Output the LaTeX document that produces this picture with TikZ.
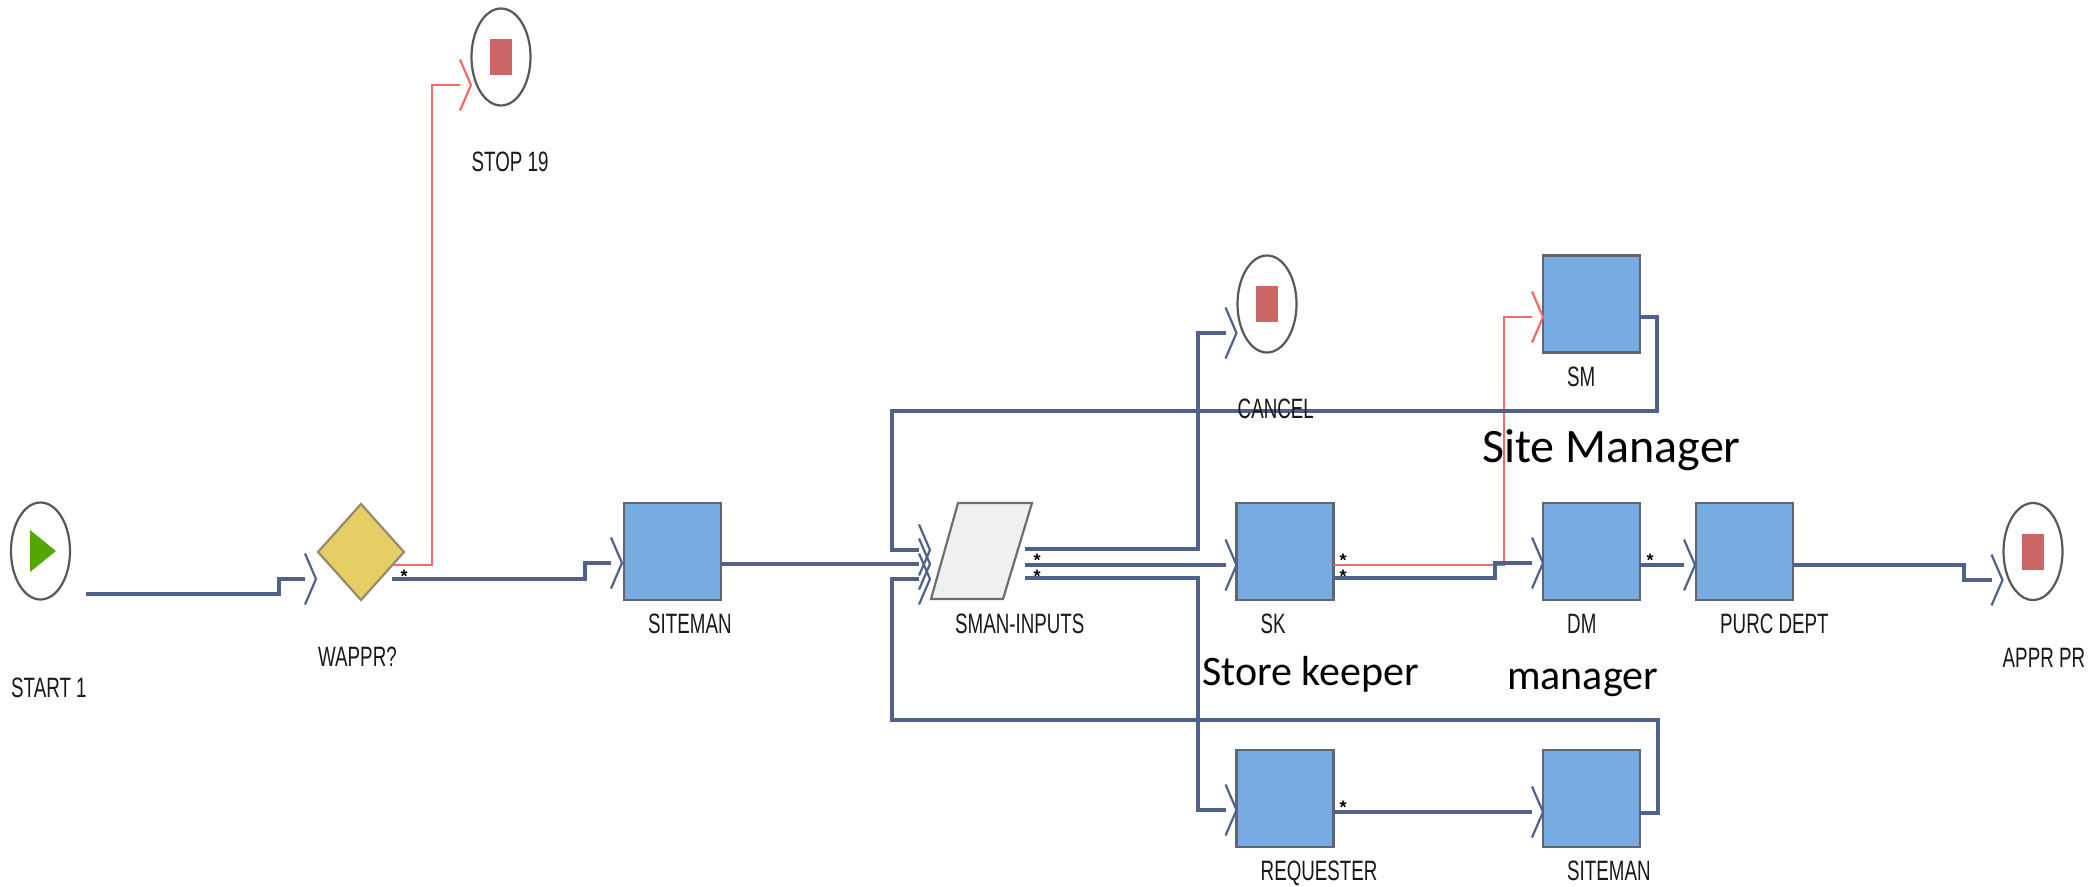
\documentclass[tikz,border=0pt]{standalone}
\usepackage{fontspec}
\setmainfont{Liberation Sans}
\newfontfamily\lblfont[FakeStretch=0.67]{Liberation Sans}
\newfontfamily\annfont{Carlito}
\usetikzlibrary{calc,shapes.geometric,arrows.meta}

\pgfdeclarearrow{
  name = Chev,
  setup code = {
    \pgfarrowssettipend{0pt}
    \pgfarrowssetlineend{-11pt}
    \pgfarrowssetbackend{-11pt}
    \pgfarrowshullpoint{0pt}{0pt}
    \pgfarrowsupperhullpoint{-11pt}{25.5pt}
  },
  drawing code = {
    \pgfsetdash{}{0pt}
    \pgfsetlinewidth{2.2pt}
    \pgfsetmiterjoin
    \pgfpathmoveto{\pgfpoint{-11pt}{25.5pt}}
    \pgfpathlineto{\pgfpointorigin}
    \pgfpathlineto{\pgfpoint{-11pt}{-25.5pt}}
    \pgfusepathqstroke
  }
}

\definecolor{linec}{RGB}{78,98,140}
\definecolor{redc}{RGB}{244,104,104}
\definecolor{boxfill}{RGB}{120,170,226}
\definecolor{boxdraw}{RGB}{96,102,112}
\definecolor{evtdraw}{RGB}{88,88,88}
\definecolor{stopfill}{RGB}{204,102,102}
\definecolor{startfill}{RGB}{86,166,0}
\definecolor{gwfill}{RGB}{230,205,100}
\definecolor{gwdraw}{RGB}{150,140,105}
\definecolor{pgfill}{RGB}{239,240,242}
\definecolor{pgdraw}{RGB}{110,110,110}
\definecolor{txt}{RGB}{25,25,25}

\begin{document}
\begin{tikzpicture}[x=1pt,y=-1pt,
  task/.style={rectangle, draw=boxdraw, fill=boxfill, line width=2.2, minimum width=97, minimum height=97, inner sep=0, outer sep=0},
  evt/.style={ellipse, draw=evtdraw, fill=white, line width=2.2, minimum width=59, minimum height=97, inner sep=0, outer sep=0},
  conn/.style={draw=linec, line width=3.2, -{Chev}, line join=miter},
  redconn/.style={draw=redc, line width=2.4, -{Chev}, line join=miter},
  lbl/.style={anchor=base west, inner sep=0, text=txt, font=\lblfont\fontsize{28}{30}\selectfont},
  ann/.style={anchor=base west, inner sep=0, text=black, font=\annfont\fontsize{42}{50}\selectfont},
  annbig/.style={ann, font=\annfont\fontsize{48}{56}\selectfont},
  star/.style={inner sep=0, text=black, font=\bfseries\fontsize{18}{18}\selectfont}
]
\fill[white] (0,0) rectangle (2095,886);
\useasboundingbox (0,0) rectangle (2095,886);

% events
\node[evt] (start) at (40.5,551) {};
\fill[startfill] (30,530) -- (56,551) -- (30,572) -- cycle;
\node[evt] (stop) at (501,57) {};
\fill[stopfill] ($(stop.center)+(-11,-18)$) rectangle ++(22,36);
\node[evt] (cancel) at (1267,304) {};
\fill[stopfill] ($(cancel.center)+(-11,-18)$) rectangle ++(22,36);
\node[evt] (appr) at (2033,551.5) {};
\fill[stopfill] ($(appr.center)+(-11,-18)$) rectangle ++(22,36);

% gateway
\node[diamond, draw=gwdraw, fill=gwfill, line width=2.2, minimum width=86, minimum height=96, inner sep=0, outer sep=0] (wappr) at (361,552) {};

% sman-inputs
\draw[draw=pgdraw, fill=pgfill, line width=2.2] (958,503) -- (1032,503) -- (1003,599) -- (931,599) -- cycle;
\node[inner sep=0, outer sep=0, minimum width=101, minimum height=96] (smi) at (981.5,551) {};

% tasks
\node[task] (siteman1) at (672.5,551.5) {};
\node[task] (sk) at (1285,551.5) {};
\node[task] (dm) at (1591.5,551.5) {};
\node[task] (purc) at (1744.5,551.5) {};
\node[task] (sm) at (1591.5,304) {};
\node[task] (req) at (1285,798.5) {};
\node[task] (siteman2) at (1591.5,798.5) {};

% connectors
\draw[conn] ($(start.center)+(45.5,43)$) -- (279,594) -- (279,579) -- ($(wappr.west)+(-2,27)$);
\draw[redconn] ($(wappr.center)+(32,13)$) -- (432,565) -- (432,85) -- ($(stop.west)+(-0.5,28)$);
\draw[conn] ($(wappr.center)+(31,27)$) -- (585,579) -- (585,563) -- ($(siteman1.west)+(-2,11.5)$);
\draw[conn] ($(siteman1.east)+(0,12.5)$) -- ($(smi.west)+(-1,13)$);
\draw[conn] ($(smi.east)+(-7,-2)$) -- (1198,549) -- (1198,333) -- ($(cancel.west)+(-1,29)$);
\draw[conn] ($(smi.east)+(-7,14)$) -- ($(sk.west)+(0,13.5)$);
\draw[conn] ($(smi.east)+(-7,27)$) -- (1198,578) -- (1198,810) -- ($(req.west)+(0,11.5)$);
\draw[redconn] ($(sk.east)+(0,13.5)$) -- (1504,565) -- (1504,317) -- ($(sm.west)+(0,13)$);
\draw[conn] ($(sk.east)+(0,26.5)$) -- (1495,578) -- (1495,563) -- ($(dm.west)+(0,11.5)$);
\draw[conn] ($(dm.east)+(0,13.5)$) -- ($(purc.west)+(-1,13.5)$);
\draw[conn] ($(purc.east)+(0,13.5)$) -- (1964,565) -- (1964,580) -- ($(appr.west)+(-1,28.5)$);
\draw[conn] ($(sm.east)+(0,13)$) -- (1657,317) -- (1657,411) -- (892,411) -- (892,550) -- ($(smi.west)+(-1,-1)$);
\draw[conn] ($(req.east)+(0,13.5)$) -- ($(siteman2.west)+(0,13.5)$);
\draw[conn] ($(siteman2.east)+(0,14.5)$) -- (1658,813) -- (1658,720) -- (892,720) -- (892,579) -- ($(smi.west)+(-1,28)$);

% multiplicity stars
\node[star] (s1) at (404,576) {*};
\node[star] (s2) at (1037,560) {*};
\node[star] (s3) at (1037,576) {*};
\node[star] (s4) at (1343,560) {*};
\node[star] (s5) at (1343,576) {*};
\node[star] (s6) at (1650,560) {*};
\node[star] (s7) at (1343,807) {*};

% labels
\node[lbl] (lstart) at ($(start.west)+(0,146)$) {START 1};
\node[lbl] (lwappr) at ($(wappr.west)+(0,114)$) {WAPPR?};
\node[lbl] (lstop) at ($(stop.west)+(0,114)$) {STOP 19};
\node[lbl] (lcancel) at ($(cancel.west)+(0,114)$) {CANCEL};
\node[lbl] (lappr) at ($(appr.west)+(-1,115.5)$) {APPR PR};
\node[lbl] (lsiteman1) at ($(siteman1.south west)+(24,33)$) {SITEMAN};
\node[lbl] (lsmi) at (955,633) {SMAN-INPUTS};
\node[lbl] (lsk) at ($(sk.south west)+(24,33)$) {SK};
\node[lbl] (ldm) at ($(dm.south west)+(24,33)$) {DM};
\node[lbl] (lpurc) at ($(purc.south west)+(24,33)$) {PURC DEPT};
\node[lbl] (lsm) at ($(sm.south west)+(24,34)$) {SM};
\node[lbl] (lreq) at ($(req.south west)+(24,33)$) {REQUESTER};
\node[lbl] (lsiteman2) at ($(siteman2.south west)+(24,33)$) {SITEMAN};

% annotations
\node[annbig] (asm) at (1482,462) {Site Manager};
\node[ann] (ask) at (1202,685) {Store keeper};
\node[ann] (adm) at (1507,689) {manager};
\end{tikzpicture}
\end{document}
